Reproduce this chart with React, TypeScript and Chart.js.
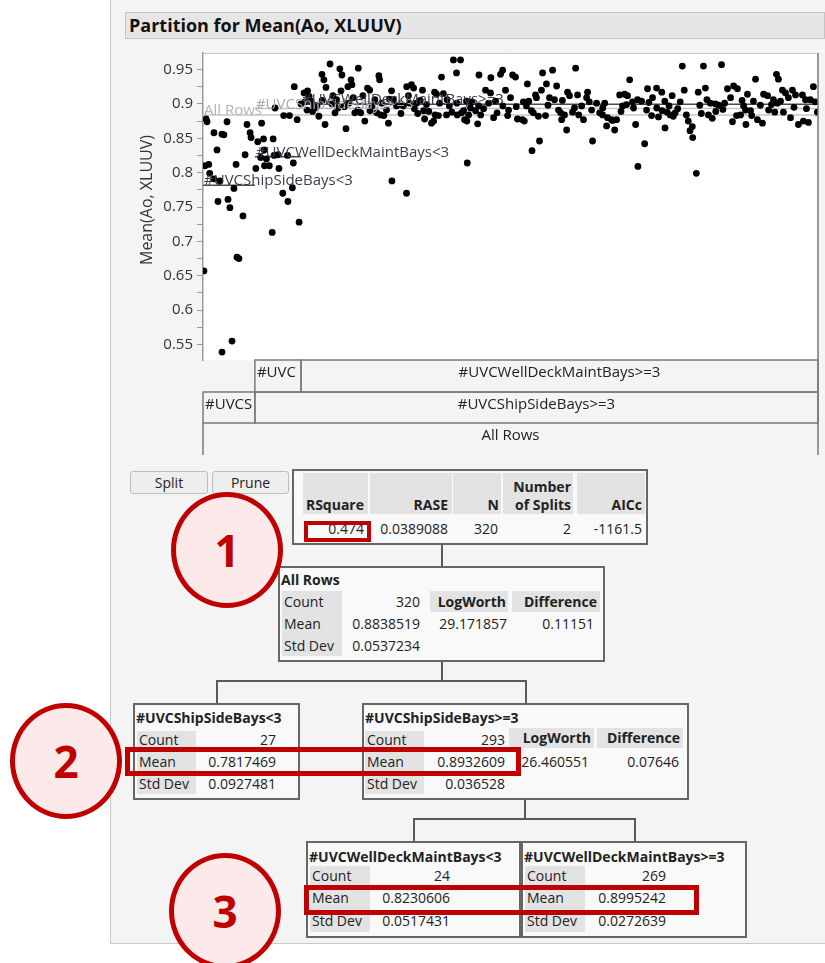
import React, { useEffect, useRef } from 'react';
import { Chart, registerables } from 'chart.js';
Chart.register(...registerables);

const FONT = '"Open Sans", "DejaVu Sans", sans-serif';

// ---- data ----
const leafNames = ['#UVCShipSideBays<3', '#UVCWellDeckMaintBays<3', '#UVCWellDeckMaintBays>=3'];
const leafCounts = [27, 24, 269];
const leafMeans = [0.7817469, 0.8230606, 0.8995242];
const allRowsMean = 0.8838519;
const shipSideGe3Mean = 0.8932609;
const shipSideGe3Name = '#UVCShipSideBays>=3';
const yMajorTicks = [0.55, 0.6, 0.65, 0.7, 0.75, 0.8, 0.85, 0.9, 0.95];
const yMinorTicks = [0.575, 0.625, 0.675, 0.725, 0.775, 0.825, 0.875, 0.925];

const leaf1X = [1.6, 2.1, 12.5, 5.7, 9.9, 10.9, 7.3, 3.0, 3.5, 7.8, 13.0, 14.0, 16.1, 17.2, 20.8, 21.9, 22.9, 24.5, 25.0, 0.5, 9.9, 15.1, 17.7, 18.7, 5.7, 1.0, 8.8];
const leaf1Y = [0.878, 0.874, 0.874, 0.858, 0.856, 0.855, 0.833, 0.812, 0.799, 0.758, 0.761, 0.749, 0.777, 0.812, 0.737, 0.826, 0.870, 0.858, 0.851, 0.657, 0.539, 0.555, 0.677, 0.675, 0.791, 0.810, 0.788];

const leaf2X = [27.5, 28.5, 30.5, 31.5, 31.8, 30.0, 33.0, 32.0, 34.5, 36.5, 37.0, 37.5, 39.0, 39.5, 41.5, 42.0, 44.0, 44.2, 45.0, 46.5, 47.0, 49.0, 50.0, 36.0, 47.5];
const leaf2Y = [0.806, 0.845, 0.872, 0.849, 0.833, 0.822, 0.820, 0.810, 0.810, 0.849, 0.825, 0.894, 0.826, 0.806, 0.770, 0.883, 0.825, 0.758, 0.883, 0.778, 0.814, 0.877, 0.728, 0.713, 0.925];

const leaf3X = [
  51.0, 52.6, 53.1, 54.1, 54.4, 55.2, 56.2, 57.7, 58.3, 59.3, 60.3, 61.9, 62.9, 63.5, 64.0, 66.1, 67.1, 67.6, 68.7, 70.2,
  71.2, 71.8, 72.3, 74.4, 75.4, 75.9, 77.0, 77.5, 79.0, 80.6, 80.8,
  82.1, 83.2, 84.2, 85.6, 86.7, 86.9, 89.4, 90.4, 91.5, 91.9, 93.0, 94.1, 95.5, 96.5, 98.1, 98.3, 99.1, 100.7, 102.3,
  104.3, 105.9, 106.0, 106.9, 107.5, 108.5, 109.6, 111.1, 111.7, 114.2, 114.8, 115.3, 116.3, 118.9, 120.0, 120.5, 120.8, 121.5, 122.5, 123.1,
  124.1, 125.1, 126.7, 128.2, 130.3, 131.9, 132.1, 132.3, 134.0, 134.5, 135.6, 136.1, 137.1, 137.3, 137.5, 138.2, 139.2, 141.8, 142.9, 143.4,
  143.6, 144.5, 147.0, 148.6, 149.6, 149.8, 151.2, 152.2, 154.8, 155.9, 156.0, 157.4, 158.5, 159.0, 160.0, 161.1,
  162.6, 163.6, 166.2, 166.7, 167.2, 168.3, 168.8, 170.9, 171.2, 171.9, 173.0, 173.5, 175.1, 176.1, 176.7, 178.2, 178.7, 180.3, 181.9, 182.9,
  184.0, 185.0, 186.1, 186.6, 188.1, 189.2, 189.7, 190.7, 192.3, 193.3, 193.9, 194.9, 197.0, 198.0, 199.6, 200.1, 202.2, 202.7, 204.8, 206.4,
  207.9, 209.0, 210.0, 210.5, 212.6, 213.1, 214.2, 215.2, 216.8, 218.3, 219.4, 220.4, 220.9, 222.0, 223.5, 225.1, 226.1, 226.3, 228.2, 229.8,
  230.8, 231.3, 233.4, 233.9, 236.0, 236.1, 238.7, 238.9, 240.3, 240.4, 241.5,
  243.1, 244.1, 244.7, 245.7, 248.3, 249.4, 250.4, 251.5, 252.5, 253.4, 254.6, 254.8, 256.7, 257.7, 259.3, 260.4, 261.4, 262.2, 263.0, 264.0,
  266.6, 266.8, 268.3, 269.8, 271.4, 272.9, 274.5, 275.5, 276.1, 277.6, 278.1, 279.7, 281.3, 282.3, 282.5, 283.3, 284.9, 286.4, 287.5, 288.5,
  291.1, 291.7, 293.8, 294.3, 295.8, 296.8, 298.4, 298.9, 299.4, 301.5, 302.0, 303.1, 304.6, 305.7, 306.7, 308.3, 309.8, 311.9, 312.4, 313.5,
  315.0, 316.0, 317.6, 319.7,
  57.0, 62.0, 69.5, 73.5, 78.2, 88.0, 92.5, 97.0, 103.0, 110.0, 113.0, 117.5, 127.0, 129.5, 140.0, 146.0, 153.0, 163.0, 169.5, 174.5,
  179.5, 187.0, 195.5, 201.0, 208.0, 217.5, 224.0, 232.0, 237.0, 242.5, 247.0, 258.5, 265.0, 270.5, 280.5, 285.5, 290.0, 297.5, 300.5, 307.5,
  314.0, 318.5,
];
const leaf3Y = [
  0.900, 0.916, 0.903, 0.891, 0.919, 0.911, 0.904, 0.898, 0.894, 0.897, 0.882, 0.943, 0.935, 0.870, 0.924, 0.958, 0.900, 0.912, 0.887, 0.894,
  0.951, 0.919, 0.942, 0.864, 0.925, 0.901, 0.935, 0.928, 0.887, 0.891, 0.952,
  0.887, 0.912, 0.875, 0.923, 0.920, 0.890, 0.906, 0.887, 0.941, 0.935, 0.901, 0.883, 0.891, 0.872, 0.919, 0.788, 0.906, 0.897, 0.899,
  0.897, 0.770, 0.925, 0.912, 0.901, 0.928, 0.923, 0.901, 0.886, 0.920, 0.890, 0.878, 0.899, 0.872, 0.875, 0.917, 0.884, 0.914, 0.883, 0.901,
  0.939, 0.915, 0.884, 0.897, 0.964, 0.945, 0.901, 0.884, 0.964, 0.887, 0.890, 0.877, 0.904, 0.875, 0.814, 0.884, 0.894, 0.890, 0.871, 0.897,
  0.942, 0.884, 0.920, 0.901, 0.916, 0.938, 0.880, 0.904, 0.943, 0.949, 0.897, 0.920, 0.883, 0.891, 0.909, 0.942,
  0.939, 0.878, 0.877, 0.903, 0.875, 0.897, 0.929, 0.890, 0.832, 0.887, 0.913, 0.909, 0.846, 0.920, 0.945, 0.883, 0.929, 0.909, 0.949, 0.906,
  0.926, 0.891, 0.887, 0.877, 0.884, 0.862, 0.917, 0.912, 0.888, 0.894, 0.952, 0.913, 0.897, 0.877, 0.909, 0.917, 0.891, 0.846, 0.901, 0.887,
  0.884, 0.901, 0.868, 0.880, 0.877, 0.876, 0.862, 0.877, 0.913, 0.897, 0.914, 0.899, 0.912, 0.935, 0.903, 0.870, 0.906, 0.809, 0.904, 0.842,
  0.891, 0.922, 0.883, 0.909, 0.923, 0.894, 0.917, 0.890, 0.904, 0.865, 0.888,
  0.884, 0.912, 0.882, 0.887, 0.903, 0.955, 0.920, 0.884, 0.875, 0.861, 0.867, 0.851, 0.799, 0.917, 0.886, 0.955, 0.923, 0.906, 0.884, 0.901,
  0.900, 0.889, 0.898, 0.957, 0.901, 0.922, 0.909, 0.874, 0.926, 0.883, 0.922, 0.884, 0.897, 0.891, 0.870, 0.914, 0.890, 0.904, 0.936, 0.877,
  0.872, 0.914, 0.912, 0.891, 0.899, 0.906, 0.943, 0.901, 0.936, 0.920, 0.888, 0.916, 0.909, 0.880, 0.920, 0.913, 0.870, 0.913, 0.875, 0.906,
  0.873, 0.906, 0.925, 0.888,
  0.889, 0.905, 0.906, 0.896, 0.909, 0.897, 0.884, 0.907, 0.886, 0.893, 0.905, 0.889, 0.906, 0.888, 0.903, 0.893, 0.887, 0.896, 0.904, 0.882,
  0.898, 0.905, 0.884, 0.903, 0.894, 0.889, 0.894, 0.902, 0.881, 0.897, 0.893, 0.898, 0.879, 0.892, 0.905, 0.883, 0.898, 0.888, 0.904, 0.895,
  0.893, 0.903,
];

const totalRows = leafCounts.reduce((a, b) => a + b, 0);
const leafStart = [0, leafCounts[0], leafCounts[0] + leafCounts[1]];
const leafEnd = [leafCounts[0], leafCounts[0] + leafCounts[1], totalRows];

const pts = (xs: number[], ys: number[]) => xs.map((x, i) => ({ x, y: ys[i] }));
const seg = (x0: number, x1: number, y: number) => [{ x: x0, y }, { x: x1, y }];

const overlayPlugin = {
  id: 'overlay',
  beforeDraw(chart: any) {
    const { ctx, chartArea: a } = chart;
    ctx.save();
    ctx.fillStyle = '#ffffff';
    ctx.fillRect(a.left, a.top, a.right - a.left, a.bottom - a.top);
    ctx.restore();
  },
  afterDatasetsDraw(chart: any) {
    const { ctx } = chart;
    const xs = chart.scales.x;
    const ys = chart.scales.y;
    ctx.save();
    ctx.font = `15px ${FONT}`;
    ctx.textBaseline = 'alphabetic';
    ctx.textAlign = 'left';
    const lab = (text: string, x: number, y: number, color: string) => {
      ctx.fillStyle = color;
      ctx.fillText(text, xs.getPixelForValue(x) + 1, ys.getPixelForValue(y));
    };
    lab('All Rows', 0, allRowsMean, '#b4b4b4');
    lab(shipSideGe3Name, leafStart[1], shipSideGe3Mean, '#a8a8a8');
    lab(leafNames[2], leafStart[2], leafMeans[2], '#3c3c4c');
    lab(leafNames[1], leafStart[1], leafMeans[1], '#3c3c4c');
    lab(leafNames[0], leafStart[0], leafMeans[0], '#3c3c4c');
    ctx.restore();
  },
  afterDraw(chart: any) {
    const { ctx, chartArea: a } = chart;
    const xs = chart.scales.x;
    ctx.save();
    ctx.strokeStyle = '#c8c8c8';
    ctx.lineWidth = 1;
    ctx.beginPath();
    ctx.moveTo(a.left, a.top + 0.5);
    ctx.lineTo(a.right, a.top + 0.5);
    ctx.stroke();
    const rowH = [32, 31, 32];
    const r1 = a.bottom, r2 = r1 + rowH[0], r3 = r2 + rowH[1], r4 = r3 + rowH[2];
    ctx.strokeStyle = '#7a7a7a';
    ctx.lineWidth = 1.5;
    const px = (v: number) => xs.getPixelForValue(v);
    const cell = (x0: number, x1: number, t: number, b: number, text: string) => {
      const l = px(x0), r = px(x1);
      ctx.strokeRect(l, t, r - l, b - t);
      ctx.fillStyle = '#222';
      ctx.font = `15px ${FONT}`;
      const w = ctx.measureText(text).width;
      if (w > r - l - 6) {
        let s = text;
        while (s.length > 0 && ctx.measureText(s).width > r - l - 4) s = s.slice(0, -1);
        ctx.textAlign = 'left';
        ctx.fillText(s, l + 2, t + 17);
      } else {
        ctx.textAlign = 'center';
        ctx.fillText(text, (l + r) / 2, t + 17);
      }
    };
    cell(leafStart[1], leafEnd[1], r1, r2, leafNames[1]);
    cell(leafStart[2], leafEnd[2], r1, r2, leafNames[2]);
    cell(leafStart[0], leafEnd[0], r2, r3, leafNames[0]);
    cell(leafStart[1], totalRows, r2, r3, shipSideGe3Name);
    ctx.beginPath();
    ctx.moveTo(px(0), r3);
    ctx.lineTo(px(0), r4);
    ctx.moveTo(px(totalRows), a.top);
    ctx.lineTo(px(totalRows), r4);
    ctx.stroke();
    ctx.fillStyle = '#222';
    ctx.font = `15px ${FONT}`;
    ctx.textAlign = 'center';
    ctx.fillText('All Rows', (px(0) + px(totalRows)) / 2, r3 + 17);
    ctx.translate(37, 160);
    ctx.rotate(-Math.PI / 2);
    ctx.textAlign = 'center';
    ctx.textBaseline = 'middle';
    ctx.fillStyle = '#333';
    ctx.font = `16px ${FONT}`;
    ctx.fillText('Mean(Ao, XLUUV)', 0, 0);
    ctx.restore();
  },
};

function ScatterChart() {
  const ref = useRef<HTMLCanvasElement | null>(null);
  useEffect(() => {
    if (!ref.current) return;
    const pointStyle = { pointRadius: 3.4, pointBackgroundColor: '#000', pointBorderWidth: 0, showLine: false, order: 1 };
    const lineStyle = { pointRadius: 0, showLine: true, order: 2, borderWidth: 1.5 };
    const chart = new Chart(ref.current, {
      type: 'scatter',
      data: {
        datasets: [
          { label: leafNames[0], data: pts(leaf1X, leaf1Y), ...pointStyle },
          { label: leafNames[1], data: pts(leaf2X, leaf2Y), ...pointStyle },
          { label: leafNames[2], data: pts(leaf3X, leaf3Y), ...pointStyle },
          { label: 'All Rows', data: seg(0, totalRows, allRowsMean), borderColor: '#c6c6c6', ...lineStyle },
          { label: shipSideGe3Name, data: seg(leafStart[1], totalRows, shipSideGe3Mean), borderColor: '#c6c6c6', ...lineStyle },
          { label: 'm1', data: seg(leafStart[0], leafEnd[0], leafMeans[0]), borderColor: '#4a4a4a', ...lineStyle },
          { label: 'm2', data: seg(leafStart[1], leafEnd[1], leafMeans[1]), borderColor: '#4a4a4a', ...lineStyle },
          { label: 'm3', data: seg(leafStart[2], leafEnd[2], leafMeans[2]), borderColor: '#4a4a4a', ...lineStyle },
        ] as any,
      },
      options: {
        animation: false,
        responsive: false,
        devicePixelRatio: 1,
        layout: { padding: { left: 0, top: 12, right: 7, bottom: 100 } },
        plugins: { legend: { display: false }, tooltip: { enabled: false } },
        scales: {
          x: { type: 'linear', min: 0, max: totalRows, display: false },
          y: {
            type: 'linear',
            min: 0.5275,
            max: 0.974,
            afterBuildTicks: (s: any) => {
              s.ticks = [...yMajorTicks, ...yMinorTicks].sort((p, q) => p - q).map((v) => ({ value: v }));
            },
            afterFit: (s: any) => {
              s.width = 93;
            },
            ticks: {
              autoSkip: false,
              padding: 4,
              color: '#333',
              font: { family: FONT, size: 15 },
              callback: (v: any) => (yMajorTicks.some((m) => Math.abs(m - v) < 1e-6) ? String(Number(Number(v).toFixed(2))) : ''),
            },
            grid: { drawOnChartArea: false, tickLength: 6, color: '#9a9a9a' },
            border: { color: '#9a9a9a', width: 1.5 },
          },
        },
      } as any,
      plugins: [overlayPlugin],
    });
    return () => chart.destroy();
  }, []);
  return <canvas ref={ref} width={715} height={420} style={{ position: 'absolute', left: 110, top: 40, width: 715, height: 420 }} />;
}

const abs = (l: number, t: number, w: number, h: number, style: any = {}, children: any = null) => (
  <div style={{ position: 'absolute', left: l, top: t, width: w, height: h, boxSizing: 'border-box', ...style }}>{children}</div>
);
const T = (left: number, cy: number, s: string, bold = false, size = 14, color = '#222') => (
  <div style={{ position: 'absolute', left, top: cy - 11, height: 22, lineHeight: '22px', fontSize: size, fontWeight: bold ? 700 : 400, whiteSpace: 'nowrap', color }}>{s}</div>
);
const R = (right: number, cy: number, s: string, bold = false) => (
  <div style={{ position: 'absolute', left: right - 160, width: 160, textAlign: 'right', top: cy - 10, height: 20, lineHeight: '20px', fontSize: 14, fontWeight: bold ? 700 : 400, whiteSpace: 'nowrap', color: '#222' }}>{s}</div>
);
const BOX = { border: '2px solid #666', background: '#f9f9f9' };
const LBG = { background: '#e3e3e3' };
const LINE = { background: '#5a5a5a' };
const RED = (w: number) => ({ border: `${w}px solid #c00000` });
const Circle = (cx: number, cy: number, n: string) => (
  <div style={{ position: 'absolute', left: cx - 56, top: cy - 58, width: 112, height: 116, boxSizing: 'border-box', borderRadius: '50%', border: '5px solid #c00000', background: '#fce9e9', display: 'flex', alignItems: 'center', justifyContent: 'center', fontSize: 44, fontWeight: 700, color: '#c00000' }}>{n}</div>
);
const BTN = { background: '#eeeeee', border: '1px solid #bcbcbc', borderRadius: 3, textAlign: 'center', lineHeight: '21px', fontSize: 14, color: '#222' };

export default function App() {
  return (
    <div style={{ position: 'absolute', left: 0, top: 0, width: 825, height: 963, overflow: 'hidden', background: '#fff', fontFamily: FONT }}>
      {abs(110, 0, 715, 944, { background: '#f4f4f4', borderLeft: '1px solid #c9c9c9', borderBottom: '1px solid #c9c9c9' })}
      {abs(125, 12, 700, 27, { background: '#e6e6e6', border: '1px solid #c4c4c4' })}
      {T(129, 25, 'Partition for Mean(Ao, XLUUV)', true, 18, '#111')}
      <ScatterChart />

      {abs(130, 471, 78, 23, BTN, 'Split')}
      {abs(212, 471, 77, 23, BTN, 'Prune')}

      {abs(292, 469, 356, 76, BOX)}
      {abs(303, 473, 65, 41, LBG)}
      {abs(370, 473, 82, 41, LBG)}
      {abs(453, 473, 48, 41, LBG)}
      {abs(503, 473, 70, 41, LBG)}
      {abs(577, 473, 68, 41, LBG)}
      {R(364, 505, 'RSquare', true)}
      {R(448, 505, 'RASE', true)}
      {R(499, 505, 'N', true)}
      {R(571, 487, 'Number', true)}
      {R(571, 505, 'of Splits', true)}
      {R(642, 505, 'AICc', true)}
      {R(364, 529, '0.474')}
      {R(448, 529, '0.0389088')}
      {R(498, 529, '320')}
      {R(571, 529, '2')}
      {R(642, 529, '-1161.5')}
      {abs(304, 521, 67, 21, RED(4))}
      {abs(441, 545, 2, 21, LINE)}

      {abs(278, 566, 327, 96, BOX)}
      {T(281, 580, 'All Rows', true)}
      {abs(282, 591, 60, 65, LBG)}
      {T(284, 602, 'Count')}
      {T(284, 624, 'Mean')}
      {T(284, 646, 'Std Dev')}
      {R(420, 602, '320')}
      {R(420, 624, '0.8838519')}
      {R(420, 646, '0.0537234')}
      {abs(430, 591, 78, 21, LBG)}
      {abs(512, 591, 88, 21, LBG)}
      {R(506, 602, 'LogWorth', true)}
      {R(597, 602, 'Difference', true)}
      {R(507, 624, '29.171857')}
      {R(594, 624, '0.11151')}

      {abs(441, 662, 2, 19, LINE)}
      {abs(216, 680, 311, 2, LINE)}
      {abs(216, 680, 2, 23, LINE)}
      {abs(525, 680, 2, 23, LINE)}

      {abs(133, 703, 167, 97, BOX)}
      {T(136, 718, '#UVCShipSideBays<3', true)}
      {abs(137, 731, 59, 63, LBG)}
      {T(139, 740, 'Count')}
      {T(139, 762, 'Mean')}
      {T(139, 784, 'Std Dev')}
      {R(276, 740, '27')}
      {R(276, 762, '0.7817469')}
      {R(276, 784, '0.0927481')}

      {abs(362, 703, 327, 97, BOX)}
      {T(365, 718, '#UVCShipSideBays>=3', true)}
      {abs(365, 731, 59, 63, LBG)}
      {T(367, 740, 'Count')}
      {T(367, 762, 'Mean')}
      {T(367, 784, 'Std Dev')}
      {R(505, 740, '293')}
      {R(505, 762, '0.8932609')}
      {R(505, 784, '0.036528')}
      {abs(509, 728, 85, 20, LBG)}
      {abs(597, 728, 86, 20, LBG)}
      {R(591, 738, 'LogWorth', true)}
      {R(680, 738, 'Difference', true)}
      {R(589, 762, '26.460551')}
      {R(679, 762, '0.07646')}
      {abs(125, 747, 396, 29, RED(5))}

      {abs(524, 800, 2, 19, LINE)}
      {abs(413, 818, 223, 2, LINE)}
      {abs(413, 818, 2, 23, LINE)}
      {abs(634, 818, 2, 23, LINE)}

      {abs(306, 841, 215, 97, BOX)}
      {T(309, 857, '#UVCWellDeckMaintBays<3', true)}
      {abs(310, 866, 60, 66, LBG)}
      {T(312, 876, 'Count')}
      {T(312, 898, 'Mean')}
      {T(312, 921, 'Std Dev')}
      {R(450, 876, '24')}
      {R(450, 898, '0.8230606')}
      {R(450, 921, '0.0517431')}

      {abs(521, 841, 226, 97, BOX)}
      {T(524, 857, '#UVCWellDeckMaintBays>=3', true)}
      {abs(525, 866, 60, 66, LBG)}
      {T(527, 876, 'Count')}
      {T(527, 898, 'Mean')}
      {T(527, 921, 'Std Dev')}
      {R(666, 876, '269')}
      {R(666, 898, '0.8995242')}
      {R(666, 921, '0.0272639')}
      {abs(304, 885, 395, 30, RED(5))}

      {Circle(227, 550, '1')}
      {Circle(66, 761, '2')}
      {Circle(225, 911, '3')}
    </div>
  );
}
